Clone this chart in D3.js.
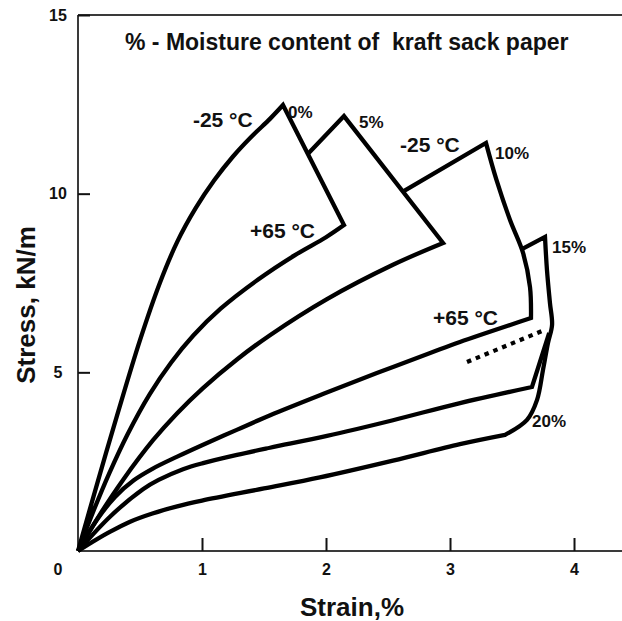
<!DOCTYPE html>
<html><head><meta charset="utf-8">
<script src="https://cdn.jsdelivr.net/npm/d3@7"></script>
<style>
html,body{margin:0;padding:0;background:#fff;}
svg{display:block;font-family:"Liberation Sans",Arial,Helvetica,sans-serif;}
</style></head><body>
<svg id="chart" width="622" height="621"></svg>
<script>
// ---------- data (strain %, stress kN/m) ----------
const xTicks = [1, 2, 3, 4];
const yTicks = [5, 10, 15];
const originLabel = "0";
const chartTitle = "% - Moisture content of  kraft sack paper";
const xTitle = "Strain,%";
const yTitle = "Stress, kN/m";

// 0 % moisture
const cold0 = [[0,0],[0.16,1.95],[0.32,3.85],[0.5,5.9],[0.66,7.5],[0.8,8.65],[0.95,9.6],[1.1,10.38],[1.25,11.04],[1.4,11.6],[1.55,12.1],[1.653,12.48]];
const drop0 = [[1.653,12.48],[2.145,9.12]];
const warm0 = [[0,0],[0.12,1.08],[0.25,2.16],[0.4,3.27],[0.58,4.4],[0.75,5.27],[0.93,6.03],[1.15,6.78],[1.45,7.59],[1.75,8.28],[2.0,8.78],[2.145,9.12]];
// 5 % moisture
const cold5 = [[1.855,11.12],[2.145,12.17],[2.944,8.62]];
const warm5 = [[0,0],[0.18,1.04],[0.363,1.99],[0.605,3.1],[0.798,3.85],[1.008,4.56],[1.282,5.36],[1.548,6.04],[2.008,7.05],[2.54,8.01],[2.944,8.62]];
// 10 % moisture
const cold10 = [[2.62,10.06],[3.29,11.42]];
const drop10 = [[3.29,11.42],[3.374,10.39],[3.484,9.26],[3.589,8.34],[3.645,7.39],[3.653,6.52]];
const warm10 = [[0,0],[0.15,0.86],[0.3,1.52],[0.45,1.98],[0.6,2.3],[0.8,2.64],[1.0,2.96],[1.28,3.39],[1.55,3.8],[1.98,4.4],[2.41,4.98],[2.84,5.54],[3.08,5.85],[3.653,6.52]];
// 15 % moisture
const cold15 = [[3.58,8.45],[3.766,8.79]];
const edge15 = [[3.766,8.79],[3.782,7.86],[3.806,6.94],[3.823,6.33],[3.79,5.82],[3.75,5.07],[3.702,4.23],[3.621,3.67],[3.444,3.25]];
const warm15 = [[0,0],[0.258,0.96],[0.524,1.73],[0.65,1.99],[0.847,2.29],[1.008,2.46],[1.282,2.69],[1.548,2.89],[2.008,3.22],[2.54,3.66],[3.081,4.14],[3.661,4.59]];
const link15 = [[3.661,4.59],[3.80,6.10]];
// 20 % moisture
const warm20 = [[0,0],[0.12,0.26],[0.26,0.54],[0.42,0.82],[0.6,1.05],[0.8,1.25],[1.0,1.41],[1.5,1.75],[1.95,2.06],[2.54,2.53],[3.08,2.99],[3.444,3.25]];
// dotted boundary
const dotted = [[3.137,5.29],[3.766,6.19]];

// annotations: text, strain, stress
const tempLabels = [["-25 °C",0.927,11.87],["+65 °C",1.387,8.76],["-25 °C",2.597,11.17],["+65 °C",2.863,6.33]];
const moistLabels = [["0%",1.694,12.12],["5%",2.266,11.84],["10%",3.363,10.97],["15%",3.823,8.34],["20%",3.661,3.47]];

// ---------- drawing ----------
const svg = d3.select("#chart");
const x = d3.scaleLinear().domain([0, 4.387]).range([78, 622]);
const y = d3.scaleLinear().domain([0, 15]).range([551, 15]);

const axisColor = "#3a3a3a";
svg.append("line").attr("x1", x(0)).attr("x2", 622).attr("y1", y(15)).attr("y2", y(15))
  .attr("stroke", axisColor).attr("stroke-width", 2);

const gx = svg.append("g").attr("transform", `translate(0,${y(0)})`)
  .call(d3.axisBottom(x).tickValues(xTicks).tickFormat(d3.format("d")).tickSizeInner(-13).tickSizeOuter(0).tickPadding(13));
const gy = svg.append("g").attr("transform", `translate(${x(0)},0)`)
  .call(d3.axisLeft(y).tickValues(yTicks).tickFormat(d3.format("d")).tickSizeInner(-12).tickSizeOuter(0).tickPadding(20));
[gx, gy].forEach(g => {
  g.select(".domain").attr("stroke", axisColor).attr("stroke-width", 2);
  g.selectAll(".tick line").attr("stroke", "#111").attr("stroke-width", 2);
  g.selectAll(".tick text").attr("fill", "#111").attr("font-size", 16).attr("font-weight", "bold")
    .attr("font-family", '"Liberation Sans",Arial,sans-serif');
});
gy.selectAll(".tick text").attr("text-anchor", "middle");
gy.select(".domain").attr("d", `M0,${y(15)}V${y(0)}`);
gx.select(".domain").attr("d", `M0,0H${622 - x(0)}`).attr("transform", `translate(${x(0)},0)`);

svg.append("text").attr("x", 58).attr("y", 575).attr("text-anchor", "middle")
  .attr("font-size", 16).attr("font-weight", "bold").attr("fill", "#111").text(originLabel);

// titles
svg.append("text").attr("x", 125).attr("y", 50).attr("font-size", 23).attr("font-weight", "bold")
  .style("white-space", "pre").attr("fill", "#111").text(chartTitle);
svg.append("text").attr("x", 352).attr("y", 616).attr("text-anchor", "middle")
  .attr("font-size", 26).attr("font-weight", "bold").attr("fill", "#111").text(xTitle);
svg.append("text").attr("transform", "translate(35,305) rotate(-90)").attr("text-anchor", "middle")
  .attr("font-size", 26).attr("font-weight", "bold").attr("fill", "#111").text(yTitle);

// curves
const smooth = d3.curveCatmullRom.alpha(0.5);
const straight = d3.curveLinear;
const gen = d3.line().x(d => x(d[0])).y(d => y(d[1]));
const rev = a => a.slice().reverse();
function joined(parts) {
  return parts.map(([pts, c], i) => {
    const s = gen.curve(c)(pts);
    return i === 0 ? s : "L" + s.slice(1);
  }).join("");
}
const outlines = [
  [[cold0, smooth], [drop0, straight], [rev(warm0), smooth]],
  [[cold5, straight], [rev(warm5), smooth]],
  [[cold10, straight], [drop10, smooth], [rev(warm10), smooth]],
  [[cold15, straight], [edge15, smooth], [rev(warm20), smooth]],
  [[warm15, smooth], [link15, straight]]
];
svg.append("g").selectAll("path").data(outlines).join("path")
  .attr("d", joined)
  .attr("fill", "none").attr("stroke", "#000").attr("stroke-width", 4.3)
  .attr("stroke-linejoin", "miter").attr("stroke-miterlimit", 10).attr("stroke-linecap", "butt");

svg.append("path").attr("d", gen.curve(straight)(dotted))
  .attr("fill", "none").attr("stroke", "#000").attr("stroke-width", 4.2).attr("stroke-dasharray", "4.5,5");

// annotations
svg.append("g").selectAll("text").data(tempLabels).join("text")
  .attr("x", d => x(d[1])).attr("y", d => y(d[2]))
  .attr("font-size", 21).attr("font-weight", "bold").attr("fill", "#111").text(d => d[0]);
svg.append("g").selectAll("text").data(moistLabels).join("text")
  .attr("x", d => x(d[1])).attr("y", d => y(d[2]))
  .attr("font-size", 17).attr("font-weight", "bold").attr("fill", "#111").text(d => d[0]);
</script>
</body></html>
